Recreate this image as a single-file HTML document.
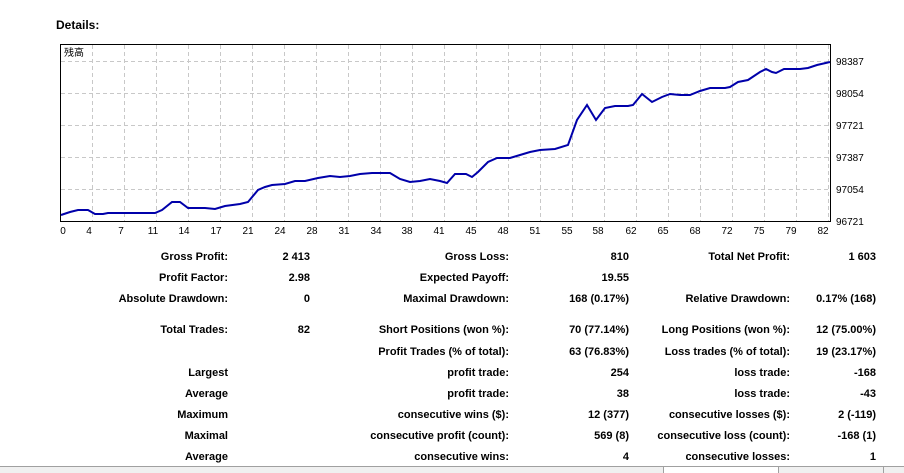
<!DOCTYPE html>
<html><head><style>
body{margin:0;width:904px;height:473px;background:#fff;overflow:hidden;position:relative;font-family:"Liberation Sans",sans-serif;}
.t{position:absolute;font-size:11px;font-weight:bold;color:#000;white-space:nowrap;}
.r{text-align:right;}
</style></head><body>
<div class="t" style="left:56px;top:18px;font-size:12px">Details:</div>
<svg width="904" height="473" style="position:absolute;left:0;top:0" font-family="Liberation Sans, sans-serif">
<rect x="60.5" y="44.5" width="770" height="177" fill="#fff" stroke="#000"/>
<g stroke="#c8c8c8" stroke-dasharray="4,3">
<line x1="61" y1="61.5" x2="830" y2="61.5"/><line x1="61" y1="93.5" x2="830" y2="93.5"/><line x1="61" y1="125.5" x2="830" y2="125.5"/><line x1="61" y1="157.5" x2="830" y2="157.5"/><line x1="61" y1="189.5" x2="830" y2="189.5"/>
<line x1="92.5" y1="45" x2="92.5" y2="221"/><line x1="124.5" y1="45" x2="124.5" y2="221"/><line x1="156.5" y1="45" x2="156.5" y2="221"/><line x1="188.5" y1="45" x2="188.5" y2="221"/><line x1="220.5" y1="45" x2="220.5" y2="221"/><line x1="252.5" y1="45" x2="252.5" y2="221"/><line x1="284.5" y1="45" x2="284.5" y2="221"/><line x1="316.5" y1="45" x2="316.5" y2="221"/><line x1="348.5" y1="45" x2="348.5" y2="221"/><line x1="380.5" y1="45" x2="380.5" y2="221"/><line x1="412.5" y1="45" x2="412.5" y2="221"/><line x1="444.5" y1="45" x2="444.5" y2="221"/><line x1="476.5" y1="45" x2="476.5" y2="221"/><line x1="508.5" y1="45" x2="508.5" y2="221"/><line x1="540.5" y1="45" x2="540.5" y2="221"/><line x1="572.5" y1="45" x2="572.5" y2="221"/><line x1="604.5" y1="45" x2="604.5" y2="221"/><line x1="636.5" y1="45" x2="636.5" y2="221"/><line x1="668.5" y1="45" x2="668.5" y2="221"/><line x1="700.5" y1="45" x2="700.5" y2="221"/><line x1="732.5" y1="45" x2="732.5" y2="221"/><line x1="764.5" y1="45" x2="764.5" y2="221"/><line x1="796.5" y1="45" x2="796.5" y2="221"/><line x1="828.5" y1="45" x2="828.5" y2="221"/>
</g>
<polyline fill="none" stroke="#0000aa" stroke-width="2" points="61,215 70,212 78,210 88,210 95,214 103,214 108,213 130,213 155,213 162,210 172,202 180,202 188,208 195,208 205,208 215,209 225,206 240,204 248,202 258,190 265,187 272,185 285,184 295,181 305,181 318,178 330,176 340,177 350,176 360,174 372,173 390,173 400,179 410,182 420,181 430,179 440,181 447,183 455,174 466,174 472,177 478,172 488,162 497,158 510,158 520,155 530,152 540,150 555,149 568,145 577,120 587,105 596,120 605,108 615,106 628,106 633,105 642,94 652,102 662,97 670,94 680,95 690,95 700,91 710,88 725,88 730,87 738,82 748,80 760,72 766,69 772,72 776,73 784,69 800,69 808,68 817,65 830,62"/>
<text x="64" y="56" font-size="10" font-family="Noto Sans CJK SC, sans-serif">残高</text>
<g font-size="10" fill="#000">
<text x="836" y="65">98387</text><text x="836" y="97">98054</text><text x="836" y="129">97721</text><text x="836" y="161">97387</text><text x="836" y="193">97054</text><text x="836" y="225">96721</text>
</g>
<g font-size="10" fill="#000" text-anchor="middle">
<text x="63" y="234">0</text><text x="89" y="234">4</text><text x="121" y="234">7</text><text x="153" y="234">11</text><text x="184" y="234">14</text><text x="216" y="234">17</text><text x="248" y="234">21</text><text x="280" y="234">24</text><text x="312" y="234">28</text><text x="344" y="234">31</text><text x="376" y="234">34</text><text x="407" y="234">38</text><text x="439" y="234">41</text><text x="471" y="234">45</text><text x="503" y="234">48</text><text x="535" y="234">51</text><text x="567" y="234">55</text><text x="598" y="234">58</text><text x="631" y="234">62</text><text x="663" y="234">65</text><text x="695" y="234">68</text><text x="727" y="234">72</text><text x="759" y="234">75</text><text x="791" y="234">79</text><text x="823" y="234">82</text>
</g>
<rect x="0" y="466" width="904" height="7" fill="#f0f0f0"/>
<line x1="0" y1="466.5" x2="904" y2="466.5" stroke="#a0a0a0"/>
<rect x="663.5" y="466.5" width="115" height="8" fill="#fff" stroke="#a0a0a0"/>
<line x1="883.5" y1="466" x2="883.5" y2="473" stroke="#a0a0a0"/>
</svg>
<div id="tbl"></div>
<script>
var rows=[
[251,"Gross Profit:","2 413","Gross Loss:","810","Total Net Profit:","1 603"],
[272,"Profit Factor:","2.98","Expected Payoff:","19.55","",""],
[293,"Absolute Drawdown:","0","Maximal Drawdown:","168 (0.17%)","Relative Drawdown:","0.17% (168)"],
[324,"Total Trades:","82","Short Positions (won %):","70 (77.14%)","Long Positions (won %):","12 (75.00%)"],
[346,"","","Profit Trades (% of total):","63 (76.83%)","Loss trades (% of total):","19 (23.17%)"],
[367,"Largest","","profit trade:","254","loss trade:","-168"],
[388,"Average","","profit trade:","38","loss trade:","-43"],
[409,"Maximum","","consecutive wins ($):","12 (377)","consecutive losses ($):","2 (-119)"],
[430,"Maximal","","consecutive profit (count):","569 (8)","consecutive loss (count):","-168 (1)"],
[451,"Average","","consecutive wins:","4","consecutive losses:","1"]];
var rights=[228,310,509,629,790,876],h="";
rows.forEach(function(r){for(var i=1;i<7;i++){if(r[i])h+='<div class="t r" style="right:'+(904-rights[i-1])+'px;top:'+r[0]+'px">'+r[i]+'</div>';}});
document.getElementById("tbl").innerHTML=h;
</script>
</body></html>
